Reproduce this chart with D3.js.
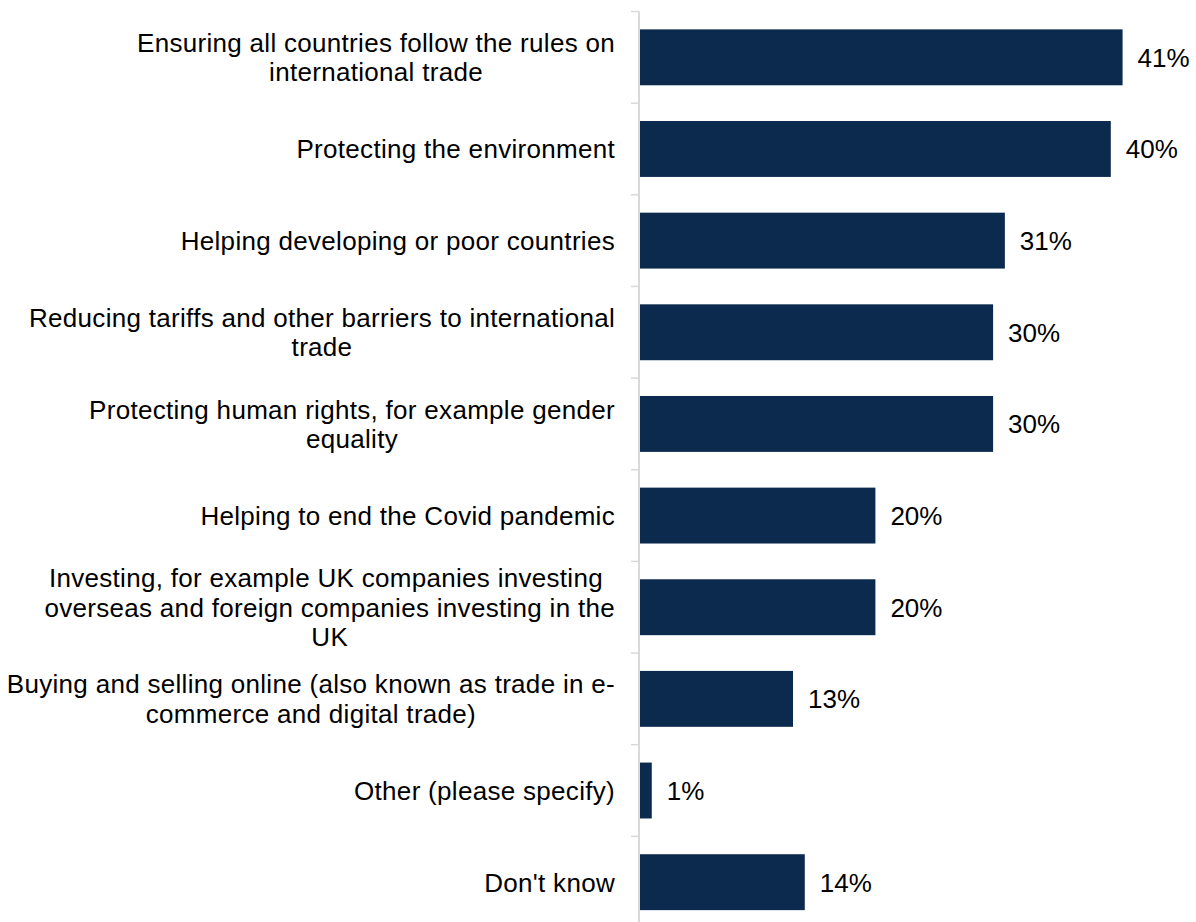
<!DOCTYPE html>
<html>
<head>
<meta charset="utf-8">
<script src="https://cdn.jsdelivr.net/npm/d3@7"></script>
<style>
  html, body { margin: 0; padding: 0; background: #ffffff; }
  svg { display: block; }
  text { font-family: "Liberation Sans", Arial, sans-serif; fill: #000000; }
</style>
</head>
<body>
<svg id="chart" width="1196" height="922"></svg>
<script>
// Category labels, each split into its wrapped lines
const categoryLines = [
  ["Ensuring all countries follow the rules on", "international trade"],
  ["Protecting the environment"],
  ["Helping developing or poor countries"],
  ["Reducing tariffs and other barriers to international", "trade"],
  ["Protecting human rights, for example gender", "equality"],
  ["Helping to end the Covid pandemic"],
  ["Investing, for example UK companies investing\u00a0", "overseas and foreign companies investing in the", "UK"],
  ["Buying and selling online (also known as trade in e-", "commerce and digital trade)"],
  ["Other (please specify)"],
  ["Don't know"]
];

// Share of respondents (%)
const values = [41, 40, 31, 30, 30, 20, 20, 13, 1, 14];

const categories = categoryLines.map(l => l.join(" "));
const data = categories.map((c, i) => ({ category: c, lines: categoryLines[i], value: values[i] }));

const svg = d3.select("#chart");

const axisX = 639;
const barColor = "#0c2a4e";
const axisColor = "#d9d9d9";
const fontSize = 26;

const y = d3.scaleBand()
  .domain(categories)
  .range([11.5, 928])
  .paddingInner(0.39)
  .paddingOuter(0.195);

const x = d3.scaleLinear()
  .domain([0, 50])
  .range([640, 640 + 50 * 11.77]);

// Category axis with ticks on the band boundaries
const boundaries = categories.map(c => y(c) - y.step() * y.paddingInner() / 2);
boundaries.push(boundaries[boundaries.length - 1] + y.step());

const axisG = svg.append("g");
axisG.append("line")
  .attr("x1", axisX).attr("x2", axisX)
  .attr("y1", boundaries[0]).attr("y2", 922)
  .attr("stroke", axisColor).attr("stroke-width", 2);
axisG.selectAll("line.tick")
  .data(boundaries)
  .join("line")
  .attr("class", "tick")
  .attr("x1", axisX - 8).attr("x2", axisX)
  .attr("y1", d => d).attr("y2", d => d)
  .attr("stroke", axisColor).attr("stroke-width", 1.5);

// Bars
svg.append("g")
  .selectAll("rect")
  .data(data)
  .join("rect")
  .attr("x", x(0))
  .attr("y", d => y(d.category))
  .attr("width", d => x(d.value) - x(0))
  .attr("height", y.bandwidth())
  .attr("fill", barColor);

// Value labels
svg.append("g")
  .selectAll("text")
  .data(data)
  .join("text")
  .attr("x", d => x(d.value) + 15)
  .attr("y", d => y(d.category) + y.bandwidth() / 2)
  .attr("dy", "0.36em")
  .attr("font-size", fontSize)
  .text(d => d.value + "%");

// Category labels: block right-aligned to the axis, lines centred within the block
const labelRight = 615;
const lineH = 29.5;
const labelG = svg.append("g");
data.forEach(d => {
  const cy = y(d.category) + y.bandwidth() / 2;
  const t = labelG.append("text")
    .attr("font-size", fontSize)
    .attr("letter-spacing", 0.3)
    .attr("text-anchor", "middle")
    .style("white-space", "pre");
  const n = d.lines.length;
  const spans = d.lines.map((line, i) =>
    t.append("tspan")
      .attr("y", cy + (i - (n - 1) / 2) * lineH)
      .attr("dy", "0.36em")
      .text(line)
  );
  const maxW = d3.max(spans, s => s.node().getComputedTextLength());
  spans.forEach(s => s.attr("x", labelRight - maxW / 2));
});
</script>
</body>
</html>
